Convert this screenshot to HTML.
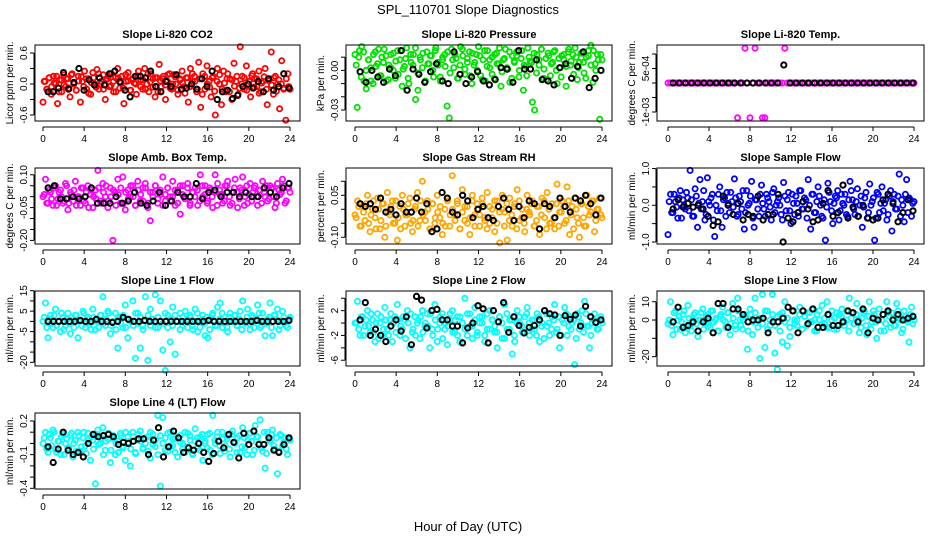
<!DOCTYPE html>
<html><head><meta charset="utf-8"><title>SPL_110701 Slope Diagnostics</title>
<style>
html,body{margin:0;padding:0;background:#fff;}
svg{display:block;font-family:"Liberation Sans",Arial,sans-serif;}
</style></head>
<body>
<svg id="chart" width="936" height="540" viewBox="0 0 936 540" xmlns="http://www.w3.org/2000/svg">
<text x="468" y="14" font-size="13" text-anchor="middle">SPL_110701  Slope Diagnostics</text>
<text x="468" y="531" font-size="13" text-anchor="middle">Hour of Day (UTC)</text>
</svg>
<script>
const xTicks=[0,4,8,12,16,20,24];
const co2Vals=[-0.35,0.05,-0.1,0.12,-0.2,0.15,0.0,-0.38,0.08,-0.15,0.18,-0.05,0.1,-0.25,0.2,0.02,-0.12,0.15,-0.35,0.05,0.25,-0.1,0.1,-0.2,0.22,0.0,0.28,-0.1,0.05,0.18,-0.3,0.1,-0.05,0.2,-0.15,0.12,0.3,-0.08,0.15,-0.38,0.05,0.22,-0.12,0.1,0.02,-0.2,0.25,0.08,-0.1,0.3,0.0,-0.15,0.2,0.1,-0.25,0.12,0.38,-0.05,0.15,-0.3,0.05,0.2,-0.1,0.18,0.0,-0.2,0.1,0.25,-0.05,0.12,-0.35,0.3,0.05,0.15,-0.15,0.42,-0.45,0.2,-0.1,0.35,0.05,-0.25,0.15,-0.6,0.3,0.0,-0.4,0.25,-0.15,0.2,0.1,-0.3,0.4,0.05,-0.2,0.72,0.15,-0.1,0.35,0.0,-0.25,0.2,0.1,-0.05,0.25,-0.15,0.05,0.3,-0.4,0.1,0.62,-0.2,0.15,0.0,-0.48,0.45,-0.1,-0.7,0.2,-0.1];
const co2Vals2=[0.05,-0.1,0.12,-0.05,0.02,0.15,-0.15,0.08,-0.02,0.1,-0.08,0.18,0.0,-0.12,0.06,0.14,-0.05,0.1,-0.18,0.03,0.12,-0.06,0.2,0.0,-0.1,0.08,0.15,-0.03,0.05,-0.15,0.12,0.02,-0.08,0.18,0.06,-0.12,0.1,0.0,0.15,-0.05,0.08,-0.1,0.2,0.04,-0.06,0.12,-0.15,0.06,0.1,-0.02,0.18,-0.08,0.0,0.14,-0.12,0.08,0.02,-0.18,0.12,-0.05,0.2,0.05,-0.1,0.1,-0.2,0.15,0.0,-0.06,0.12,-0.14,0.05,0.18,-0.1,0.02,0.1,-0.15,0.08,-0.04,0.15,-0.08,0.0,0.12,-0.12,0.05,0.16,-0.06,0.1,-0.18,0.02,0.14,-0.1,0.06,-0.02,0.12,-0.14,0.08,0.0,-0.08,0.1,-0.05];
const co2Black=[-0.15,-0.15,-0.08,0.22,-0.1,0.03,0.3,-0.12,0.08,-0.02,0.12,-0.02,0.2,0.25,0.04,-0.12,-0.25,0.15,0.15,0.12,0.25,-0.05,-0.15,0.05,-0.05,0.18,-0.1,-0.08,0.0,-0.1,0.1,-0.05,0.25,-0.3,-0.15,-0.12,-0.28,-0.22,-0.05,0.0,-0.08,0.05,-0.15,0.1,-0.12,-0.05,0.2,-0.08];
const presVals=[0.012,-0.028,0.015,0.018,-0.008,-0.014,0.008,0.002,-0.01,0.014,0.005,-0.004,0.01,0.016,-0.008,0.004,0.012,0,-0.006,0.015,0.008,-0.012,0.003,0.017,-0.01,0.006,0.012,-0.022,-0.015,0.01,0.002,-0.009,0.014,0.005,0.011,-0.005,0.017,0.004,-0.008,0.008,0.012,-0.027,-0.036,0.016,0.002,0.009,-0.006,0.018,0.011,-0.003,0.006,0.014,-0.01,0.004,0.012,0.018,-0.004,0.008,-0.008,0.015,0.002,0.01,-0.006,0.013,0.005,-0.012,0.008,0.016,0.001,-0.009,0.011,0.006,0.014,-0.005,0.009,-0.015,0.003,0.017,0.007,-0.024,-0.03,0.012,0.004,0.016,-0.006,0.009,0.013,-0.004,0.006,0.015,-0.01,0.002,0.011,0.008,-0.012,0.014,0.004,0.012,0.017,-0.007,0.006,0.013,-0.002,0.01,0.015,0.019,-0.009,0.005,0.012,-0.037,0.008];
const presVals2=[0.004,0.01,-0.005,0.014,0.0,0.008,-0.008,0.012,0.003,0.016,-0.004,0.006,0.011,-0.007,0.002,0.013,0.007,-0.003,0.015,0.001,0.009,-0.006,0.012,0.004,0.017,-0.002,0.008,0.013,-0.008,0.005,0.011,0.0,0.015,0.006,-0.005,0.01,0.003,0.014,-0.002,0.008,0.012,-0.006,0.004,0.016,0.001,0.009,-0.004,0.013,0.006,0.0,0.011,-0.007,0.015,0.003,0.008,-0.003,0.012,0.005,0.017,-0.001,0.009,0.002,0.014,-0.006,0.007,0.011,0.0,0.015,0.004,-0.004,0.01,0.006,0.013,-0.002,0.008,0.016,0.001,-0.007,0.011,0.005,0.014,0.0,0.009,-0.005,0.012,0.003,0.016,0.007,-0.003,0.01,0.002,0.013,0.006,-0.006,0.011,0.004,0.015,0.0,0.008,0.012];
const presBlack=[-0.001,-0.009,0,-0.005,-0.009,0.001,-0.004,0.015,-0.015,0.001,-0.003,-0.009,-0.001,0.005,-0.008,-0.01,0.014,-0.003,-0.01,-0.005,-0.001,-0.008,-0.011,-0.007,0.002,0.001,-0.009,0.015,0.001,0.001,0.008,-0.007,-0.008,-0.011,0.002,0.005,-0.006,0.003,0.014,-0.013,-0.006,0];
const tempVals=[0,0,0,0,0,0,0,0,0,0, 0,0,0,0,0,0,0,0,0,0, 0,0,0,0,0,0,0,0,-0.0012,0, 0,0.0012,0,-0.0012,0,0.0012,0,0,-0.0012,-0.0012, 0,0,0,0,0,0,0,0.0012,0,0, 0,0,0,0,0,0,0,0,0,0, 0,0,0,0,0,0,0,0,0,0, 0,0,0,0,0,0,0,0,0,0, 0,0,0,0,0,0,0,0,0,0, 0,0,0,0,0,0,0,0,0,0];
const tempVals2=[];
const tempBlack=[0,0,0,0,0,0,0,0,0,0, 0,0,0,0,0,0,0,0,0.00062,0, 0,0,0,0,0,0,0,0,0,0, 0,0,0,0,0,0,0,0,0,0];
const ambVals=[0.0,0.08,-0.03,0.02,-0.04,0.05,-0.01,0.03,-0.03,0.06,-0.06,0.02,-0.02,0.07,0.0,-0.04,0.04,-0.03,0.05,0.01,-0.05,0.03,0.12,-0.02,0.06,0.0,-0.05,0.04,-0.2,0.02,0.08,-0.03,0.09,-0.06,0.03,0.0,0.05,-0.04,0.07,-0.02,0.04,0.06,-0.05,-0.11,0.02,0.05,-0.03,0.01,0.09,-0.02,0.04,0.0,0.07,-0.04,0.03,-0.08,0.05,0.0,0.06,-0.03,0.02,0.04,-0.04,0.1,0.0,0.05,-0.02,0.03,-0.05,0.1,0.06,0.01,-0.03,0.05,0.07,-0.04,0.02,0.08,-0.05,0.04,0.09,0.0,-0.03,0.06,0.02,0.05,-0.04,0.03,0.07,0.0,-0.02,0.05,0.04,-0.05,0.06,0.01,0.08,-0.03,0.04,0.02];
const ambVals2=[0.01,-0.03,0.03,-0.01,0.04,-0.04,0.02,0.0,-0.02,0.05,-0.03,0.01,0.03,-0.04,0.0,0.04,-0.02,0.02,-0.05,0.03,0.0,-0.01,0.04,-0.03,0.02,0.05,-0.02,0.0,0.03,-0.04,0.01,0.04,-0.03,0.02,-0.01,0.05,0.0,-0.04,0.03,0.01,-0.02,0.04,-0.03,0.02,0.0,0.05,-0.01,0.03,-0.04,0.01,0.04,-0.02,0.0,0.03,-0.03,0.05,0.01,-0.01,0.04,-0.04,0.02,0.0,0.03,-0.02,0.05,0.01,-0.03,0.04,0.0,0.02,-0.04,0.03,0.01,-0.02,0.05,0.0,-0.03,0.04,0.02,-0.01,0.03,-0.04,0.05,0.01,-0.02,0.04,0.0,0.03,-0.03,0.02,0.05,-0.01,0.04,0.0,-0.03,0.03,0.02,0.05,-0.02,0.04];
const ambBlack=[0.04,0.05,-0.01,-0.01,0.0,-0.01,0.0,0.04,-0.03,-0.03,-0.03,0.0,-0.03,-0.02,0.02,-0.03,-0.04,-0.02,0.02,-0.04,-0.02,0.02,0.0,0.0,0.06,-0.01,0.02,0.03,0.0,0.02,0.02,0.0,0.02,0.0,0.0,0.04,0.02,0.0,0.04,0.06];
const rhVals=[-0.02,0.03,-0.06,0.01,-0.04,0.05,-0.08,0.0,-0.03,0.04,-0.07,0.02,-0.1,0.06,-0.02,0.03,-0.05,-0.11,0.01,0.05,-0.06,-0.02,0.04,-0.08,0.0,0.06,-0.04,0.1,-0.01,0.03,-0.07,0.02,-0.05,0.05,-0.03,-0.09,0.0,0.04,-0.06,0.12,-0.02,0.03,-0.07,0.07,-0.04,0.01,-0.09,0.05,-0.02,0.02,-0.06,0.04,-0.03,0.06,-0.05,0.0,-0.08,0.03,-0.12,0.05,-0.01,-0.11,0.04,-0.06,0.02,0.07,-0.04,0.0,-0.08,0.05,-0.02,0.03,-0.06,0.01,-0.09,0.04,-0.03,0.06,-0.05,0.02,-0.07,0.09,-0.01,0.03,-0.05,0.08,-0.09,0.01,0.04,-0.03,-0.1,0.02,-0.06,0.05,-0.02,0.03,-0.08,0.0,0.04,-0.03];
const rhVals2=[-0.03,0.01,-0.06,-0.01,0.02,-0.05,-0.02,0.03,-0.07,0.0,-0.04,0.02,-0.06,-0.01,0.01,-0.05,0.03,-0.03,-0.07,0.0,-0.02,0.02,-0.05,-0.04,0.01,-0.06,0.03,-0.02,-0.04,0.0,-0.07,0.02,-0.03,-0.01,0.01,-0.05,-0.06,0.03,-0.02,0.0,-0.04,0.02,-0.07,-0.01,0.01,-0.05,-0.03,0.03,-0.06,0.0,-0.02,0.02,-0.04,-0.07,0.01,-0.03,0.03,-0.05,-0.01,0.0,-0.06,0.02,-0.04,-0.02,0.01,-0.07,0.03,-0.03,-0.05,0.0,-0.01,0.02,-0.06,-0.04,0.01,-0.02,0.03,-0.07,0.0,-0.05,-0.03,0.02,-0.06,-0.01,0.01,-0.04,0.03,-0.02,-0.07,0.0,-0.05,0.02,-0.03,-0.06,0.01,-0.01,0.03,-0.04,0.0,-0.02];
const rhBlack=[0.02,0.01,0.02,0.0,0.04,-0.01,0.0,-0.02,0.02,-0.01,-0.01,0.04,-0.01,0.02,-0.08,-0.07,0.06,0.04,-0.01,-0.02,0.05,0.03,-0.03,0.0,0.01,-0.03,-0.04,0.01,0.04,0.0,-0.04,0.01,-0.03,0.03,0.02,-0.07,0.02,0.01,-0.03,0.04,0.01,-0.01,0.04,0.03,0.05,0.02,-0.02,0.04];
const flowVals=[-0.8,0.3,-0.2,0.1,-0.35,0.4,0.15,-0.1,0.2,0.95,-0.3,0.45,-0.6,0.7,0.1,-0.4,0.75,0.0,0.3,-0.85,-0.15,0.5,-0.6,0.2,0.35,-0.2,0.1,0.72,-0.3,0.25,-0.1,-0.65,0.4,0.05,0.65,-0.6,0.15,-0.3,0.55,-0.1,0.3,0.1,-0.4,0.45,0.0,0.2,-0.25,0.62,-0.15,0.35,-0.5,0.05,0.25,-0.3,0.4,-0.1,0.15,0.7,-0.65,0.3,-0.2,0.5,0.0,-0.35,-0.95,0.6,0.1,-0.5,0.25,0.4,-0.15,0.05,0.3,-0.3,0.65,0.15,-0.25,0.45,0.0,-0.6,0.2,-0.35,0.58,0.1,-0.95,0.35,-0.2,0.5,0.05,-0.4,0.25,-0.7,0.3,-0.1,0.85,0.15,-0.45,0.7,0.2,-0.3,0.1];
const flowVals2=[0.1,-0.2,0.3,-0.05,0.2,-0.35,0.0,0.35,-0.15,0.15,-0.3,0.25,0.05,-0.1,0.4,-0.25,0.1,0.2,-0.4,0.0,0.3,-0.15,0.15,-0.3,0.05,0.35,-0.05,0.2,-0.25,0.1,0.4,-0.2,0.0,0.25,-0.35,0.15,-0.1,0.3,0.05,-0.3,0.2,-0.05,0.35,-0.2,0.1,0.0,-0.4,0.25,0.15,-0.15,0.3,-0.25,0.05,0.4,-0.1,0.2,-0.35,0.0,0.3,-0.2,0.1,0.25,-0.3,0.15,-0.05,0.35,-0.15,0.05,0.2,-0.4,0.3,0.0,-0.25,0.15,0.4,-0.1,0.1,-0.3,0.25,-0.05,0.35,-0.2,0.0,0.2,-0.35,0.3,0.05,-0.15,0.15,-0.25,0.4,0.1,-0.1,0.25,-0.3,0.0,0.3,-0.2,0.15,0.05];
const flowBlack=[-0.1,0.15,-0.05,0.05,-0.05,0.0,-0.1,-0.3,-0.55,-0.45,0.25,0.0,-0.25,0.05,-0.4,-0.25,-0.3,0.25,-0.4,-0.25,-0.25,0.3,-1.0,-0.35,-0.45,-0.2,0.1,-0.1,-0.45,-0.4,0.05,0.4,-0.3,-0.2,0.55,-0.35,-0.05,-0.3,0.0,-0.35,-0.4,-0.35,0.15,0.3,0.05,-0.45,-0.2,0.15,-0.15];
const line1Vals=[0,9,-8,3,-3,6,0,-5,2,-2,4,-6,1,3,-8,0,5,-3,2,-1,6,-4,1,3,12,-2,5,-6,0,4,-13,2,-3,8,-8,0,10,-18,4,-13,-2,12,-19,6,1,13,-3,10,-14,-24,3,-10,7,-16,0,4,-2,5,-3,2,-4,6,-5,0,3,-7,-8,1,4,-2,7,9,-3,2,-5,4,0,3,-2,5,10,-1,6,-4,2,0,8,-3,4,-7,1,9,-7,3,6,-2,5,0,-3,2];
const line1Vals2=[2,-3,1,-1,3,-2,0,4,-4,1,-1,2,-3,3,0,-2,4,-1,1,-4,2,0,-3,3,-1,1,4,-2,0,-4,2,-1,3,-3,1,0,-2,4,-1,2,-4,0,3,-2,1,-3,2,0,-1,4,-3,1,-2,3,0,-4,2,-1,1,3,-2,0,4,-3,1,-1,2,-4,3,0,-2,1,4,-1,-3,2,0,3,-2,1,-4,0,2,-1,3,-3,1,4,-2,0,-1,2,-3,3,1,-4,0,2,-2,1];
const line1Black=[0,0,0,0,0,0,0.5,0,0,1,0,0,-0.5,0,2,1,0,0,0.5,0,0,0,0,0,0,0,0,0,0,0,0.5,0,0,0,0,0,0,0,0,0.5,0,0,0,0,0,0.5];
const line2Vals=[0,3.5,-2,1,-0.5,2,-1.5,0.5,-3,1.5,0,-2,2.5,-1,0.5,-3,1,3,-2,-1,0.5,2,-4,-1.5,1,0,-2.5,2,-0.5,1.5,-4,-1,3,-3,0,1.5,-1,-3.5,0.5,2,-1.5,1,-3,0,4,-2,1.5,-0.5,2.5,-2,0,1,-3,-1,2,0.5,-1.5,-4,1,-2.5,3,-1,0.5,-5,-3,2,0,-1.5,1,2.5,-2,0.5,-1,1.5,-3,0,2,-0.5,-2,1,3,-1,-4,0.5,2.5,-2,1,0,-6.7,1.5,-1,2,3.5,-0.5,-4,0,1.5,-1,0.5,0];
const line2Vals2=[0,-1,1,-2,0.5,-0.5,1.5,-1.5,0,-2.5,1,-1,0.5,-2,1.5,0,-1.5,0.5,-0.5,1,-2.5,0,1.5,-1,-2,0.5,1,-1.5,0,-0.5,1.5,-2,0.5,-1,1,-2.5,0,-0.5,1.5,-1.5,0.5,-2,1,0,-1,1.5,-0.5,-2.5,0.5,-1.5,1,0,-2,1.5,-1,0.5,-0.5,-1.5,1,0,-2.5,1.5,-1,0.5,-2,0,1,-0.5,-1.5,1.5,0,-1,0.5,-2,1,-0.5,-2.5,1.5,0,-1,0.5,-1.5,1,-2,0,1.5,-0.5,-1,0.5,-2.5,1,0,-1.5,1.5,-0.5,-2,0.5,0,-1,1];
const line2Black=[0.5,3.3,-2,-1,-2,-3,-0.5,0.5,-1.3,1,-3.5,4.3,3.7,-0.8,2,2.2,0.5,0.5,-0.5,-0.5,-3.2,-0.8,0,2.8,2.3,-3.2,2,0.2,3.3,-1.5,1,-0.4,-1.6,-0.7,-0.4,0.5,2,1.5,1.3,-2,1.2,0.6,1.3,-0.5,2.7,1,0.1,0.5];
const line3Vals=[-2,10,-8,5,0,-5,3,-7,8,-3,1,4,-9,0,6,-2,3,-4,5,0,-6,2,7,-1,4,-8,9,-3,12,0,-5,3,-16,6,-8,12,0,-21,14,-15,5,-3,14,-18,-27,3,-12,10,-14,-9,5,0,-3,7,-5,2,4,-1,6,-6,3,0,8,-2,10,-4,5,1,-5,3,6,-3,0,12,4,-2,9,-7,1,5,-8,10,-1,3,-10,6,0,-6,10,2,4,-3,9,1,-7,5,0,-12,7,0];
const line3Vals2=[0,-3,4,-5,2,-1,5,-4,1,-6,3,-2,0,4,-5,2,-3,5,-1,1,-6,3,0,-4,4,-2,1,-5,5,-3,0,2,-6,3,-1,4,-4,1,-2,5,-5,0,3,-3,2,-6,4,-1,1,-4,5,-2,0,3,-5,2,-3,4,-1,0,-6,5,-2,1,-4,3,0,-5,4,-3,2,-1,5,-6,1,-2,3,0,-4,4,-3,2,-5,5,-1,0,-6,3,-2,4,-4,1,-3,5,0,-5,2,-1,3,-2];
const line3Black=[-1,7,-4,-3,-1,-6,-1,1,-7,9,9,-4,6,6,3,-1,0,0,1,-7,-1,-1,1,7,5,-7,5,-2,6,-4,-4,3,-3,-3,-1,5,4,-1,6,-7,1,0,3,5,0,3,0,1,2];
const line4Vals=[0.0,0.1,-0.08,0.05,0.12,-0.05,0.02,-0.1,0.08,0.0,-0.04,0.07,-0.12,0.03,0.1,-0.07,0.05,-0.02,0.09,-0.15,0.03,-0.36,0.12,0.0,0.14,-0.06,0.04,-0.17,0.07,-0.1,0.02,0.09,-0.04,-0.15,0.06,-0.2,0.1,-0.08,0.03,0.11,-0.05,0.0,0.06,-0.13,0.08,-0.03,0.25,-0.38,0.23,0.05,-0.07,0.1,-0.02,0.04,-0.12,0.07,0.0,-0.08,0.09,0.03,-0.1,0.13,-0.04,0.06,-0.15,0.02,0.08,-0.06,0.25,0.0,0.1,-0.09,0.04,-0.02,0.07,-0.12,0.11,0.0,0.05,-0.08,0.14,-0.04,0.03,0.09,-0.1,0.16,0.06,0.21,-0.07,-0.22,0.1,0.02,0.12,-0.05,-0.27,0.08,-0.02,0.05,-0.1,0.03];
const line4Vals2=[0.05,-0.05,0.08,-0.02,0.1,-0.08,0.02,0.06,-0.1,0.04,-0.04,0.09,0.0,-0.07,0.07,-0.03,0.1,-0.09,0.03,0.06,-0.05,0.08,-0.01,0.05,-0.1,0.02,0.09,-0.06,0.04,0.0,-0.08,0.07,-0.03,0.1,0.01,-0.05,0.06,-0.09,0.08,0.02,-0.04,0.05,-0.07,0.1,-0.01,0.03,-0.1,0.07,0.0,-0.06,0.09,-0.02,0.04,-0.08,0.06,0.01,-0.05,0.1,-0.03,0.07,-0.09,0.02,0.05,-0.06,0.08,0.0,-0.04,0.09,-0.1,0.03,0.06,-0.02,0.1,-0.07,0.04,-0.05,0.08,0.01,-0.08,0.07,-0.03,0.05,-0.1,0.09,0.02,-0.06,0.06,0.0,-0.04,0.1,-0.09,0.03,0.08,-0.02,0.05,-0.07,0.07,0.01,-0.05,0.04];
const line4Black=[-0.03,-0.17,-0.05,0.1,-0.06,-0.1,-0.08,-0.12,0.0,0.08,0.06,0.07,0.08,0.06,-0.01,0.01,0.0,0.02,0.04,0.04,-0.1,0.03,0.14,-0.12,-0.03,0.11,0.05,-0.08,-0.04,-0.06,0.0,-0.08,-0.16,-0.09,0.02,-0.04,0.08,0.01,-0.13,0.09,-0.01,0.11,-0.01,-0.01,0.05,-0.06,-0.08,-0.01,0.05];

const co2Ticks=[-0.6,-0.3,0,0.3,0.6], co2Labels=["-0.6","","0.0","","0.6"];
const presTicks=[0.01,0,-0.01,-0.02,-0.03], presLabels=["","0.00","","","-0.03"];
const tempTicks=[0.001,0.0005,0,-0.0005,-0.001], tempLabels=["","5e-04","","","-1e-03"];
const ambTicks=[0.1,0.05,0,-0.05,-0.1,-0.15,-0.2], ambLabels=["0.10","","","-0.05","","","-0.20"];
const rhTicks=[0.1,0.05,0,-0.05,-0.1], rhLabels=["","0.05","","","-0.10"];
const flowTicks=[1,0.5,0,-0.5,-1], flowLabels=["1.0","","0.0","","-1.0"];
const line1Ticks=[15,10,5,0,-5,-10,-15,-20], line1Labels=["15","","5","","-5","","","-20"];
const line2Ticks=[4,2,0,-2,-4,-6], line2Labels=["","2","","-2","","-6"];
const line3Ticks=[10,0,-10,-20], line3Labels=["10","0","","-20"];
const line4Ticks=[0.2,0.1,0,-0.1,-0.2,-0.3,-0.4], line4Labels=["0.2","","","-0.1","","","-0.4"];

const NS="http://www.w3.org/2000/svg";
const svg=document.getElementById('chart');
function mk(tag,attrs,parent){const e=document.createElementNS(NS,tag);for(const k in attrs)e.setAttribute(k,attrs[k]);parent.appendChild(e);return e;}

const panels=[
 {id:'co2',title:'Slope Li-820 CO2',ylab:'Licor ppm per min.',box:[35,45,300,121],x0:43,x1:290,ymin:-0.716,ymax:0.755,vals:co2Vals,vals2:co2Vals2,blk:co2Black,ticks:co2Ticks,labels:co2Labels,col:'#ff0000'},
 {id:'pressure',title:'Slope Li-820 Pressure',ylab:'kPa per min.',box:[346,45,612,121],x0:355,x1:602,ymin:-0.0383,ymax:0.0192,vals:presVals,vals2:presVals2,blk:presBlack,ticks:presTicks,labels:presLabels,col:'#00e000'},
 {id:'temp',title:'Slope Li-820 Temp.',ylab:'degrees C per min.',box:[657,45,924,121],x0:668,x1:914,ymin:-0.00131,ymax:0.00131,vals:tempVals,vals2:tempVals2,blk:tempBlack,ticks:tempTicks,labels:tempLabels,col:'#ff00ff'},
 {id:'amb-temp',title:'Slope Amb. Box Temp.',ylab:'degrees C per min.',box:[35,168,300,244],x0:43,x1:290,ymin:-0.2165,ymax:0.131,vals:ambVals,vals2:ambVals2,blk:ambBlack,ticks:ambTicks,labels:ambLabels,col:'#ff00ff'},
 {id:'rh',title:'Slope Gas Stream RH',ylab:'percent per min.',box:[346,168,612,244],x0:355,x1:602,ymin:-0.124,ymax:0.1475,vals:rhVals,vals2:rhVals2,blk:rhBlack,ticks:rhTicks,labels:rhLabels,col:'#ffa500'},
 {id:'sample-flow',title:'Slope Sample Flow',ylab:'ml/min per min.',box:[657,168,924,244],x0:668,x1:914,ymin:-1.055,ymax:1.016,vals:flowVals,vals2:flowVals2,blk:flowBlack,ticks:flowTicks,labels:flowLabels,col:'#0000ff'},
 {id:'line1-flow',title:'Slope Line 1 Flow',ylab:'ml/min per min.',box:[35,291,300,366],x0:43,x1:290,ymin:-21.8,ymax:14.85,vals:line1Vals,vals2:line1Vals2,blk:line1Black,ticks:line1Ticks,labels:line1Labels,col:'#00ffff'},
 {id:'line2-flow',title:'Slope Line 2 Flow',ylab:'ml/min per min.',box:[346,291,612,366],x0:355,x1:602,ymin:-6.93,ymax:5.17,vals:line2Vals,vals2:line2Vals2,blk:line2Black,ticks:line2Ticks,labels:line2Labels,col:'#00ffff'},
 {id:'line3-flow',title:'Slope Line 3 Flow',ylab:'ml/min per min.',box:[657,291,924,366],x0:668,x1:914,ymin:-25.1,ymax:15.85,vals:line3Vals,vals2:line3Vals2,blk:line3Black,ticks:line3Ticks,labels:line3Labels,col:'#00ffff'},
 {id:'line4-flow',title:'Slope Line 4 (LT) Flow',ylab:'ml/min per min.',box:[35,413,300,489],x0:43,x1:290,ymin:-0.406,ymax:0.271,vals:line4Vals,vals2:line4Vals2,blk:line4Black,ticks:line4Ticks,labels:line4Labels,col:'#00ffff'}
];

panels.forEach(p=>{
 const g=mk('g',{},svg);
 
 
 const [l,t,r,b]=p.box;
 const xs=h=>p.x0+(h/24)*(p.x1-p.x0);
 const ys=v=>b-(v-p.ymin)/(p.ymax-p.ymin)*(b-t);
 const title=mk('text',{x:(l+r)/2,y:t-7,'font-size':11,'font-weight':'bold','text-anchor':'middle'},g);
 title.textContent=p.title;
 
 
 const yl=mk('text',{x:0,y:0,'font-size':10,'text-anchor':'middle',transform:`translate(${l-22},${(t+b)/2}) rotate(-90)`},g);
 yl.textContent=p.ylab;
 
 
 const pts=mk('g',{fill:'none','stroke-width':1.8},g);
 
 
 const n=p.vals.length;
 p.vals.forEach((v,i)=>{
  const h=i*24/(n-1);
  const c=mk('circle',{cx:xs(h).toFixed(1),cy:ys(v).toFixed(1),r:2.6,stroke:p.col},pts);
  
  
 });
 const n2=p.vals2.length;
 p.vals2.forEach((v,i)=>{
  const h=(i+0.5)*24/n2;
  const c=mk('circle',{cx:xs(h).toFixed(1),cy:ys(v).toFixed(1),r:2.6,stroke:p.col},pts);
  
  
 });
 const bp=mk('g',{fill:'none','stroke-width':2,stroke:'#000'},g);
 
 
 const m=p.blk.length;
 p.blk.forEach((v,i)=>{
  const h=0.5+i*23.4/(m-1);
  const c=mk('circle',{cx:xs(h).toFixed(1),cy:ys(v).toFixed(1),r:2.6},bp);
  
  
 });
 const rect=mk('rect',{x:l,y:t,width:r-l,height:b-t,fill:'none',stroke:'#000','stroke-width':1},g);
 
 
 const xa=mk('g',{'font-size':10,'text-anchor':'middle'},g);
 
 
 mk('line',{x1:xs(xTicks[0]),x2:xs(xTicks[xTicks.length-1]),y1:b+6,y2:b+6,stroke:'#000'},xa);
 xTicks.forEach(v=>{
  mk('line',{x1:xs(v),x2:xs(v),y1:b+6,y2:b+10,stroke:'#000'},xa);
  const tx=mk('text',{x:xs(v),y:b+21},xa);
  tx.textContent=v;
  
  
 });
 const ya=mk('g',{'font-size':10,'text-anchor':'middle'},g);
 
 
 const yt=p.ticks;
 mk('line',{x1:l-1,x2:l-1,y1:ys(yt[0]),y2:ys(yt[yt.length-1]),stroke:'#000'},ya);
 yt.forEach((v,i)=>{
  const y=ys(v);
  mk('line',{x1:l-5,x2:l-1,y1:y,y2:y,stroke:'#000'},ya);
  if(p.labels[i]){
   const tx=mk('text',{x:0,y:0,transform:`translate(${l-8},${y}) rotate(-90)`},ya);
   tx.textContent=p.labels[i];
   
   
  }
 });
});
</script>
</body></html>
